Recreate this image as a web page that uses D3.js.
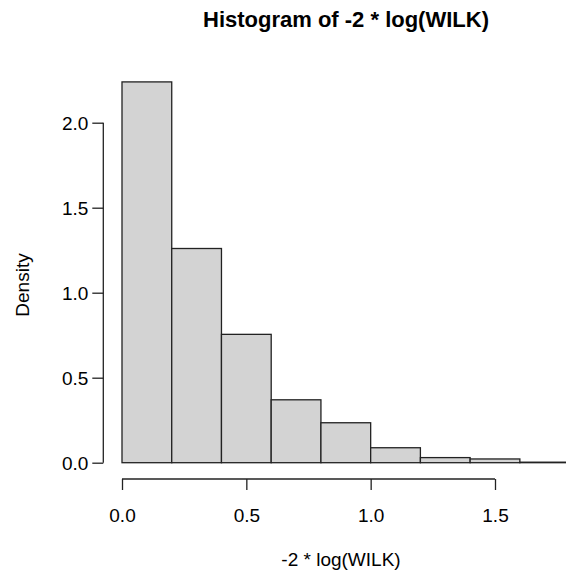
<!DOCTYPE html>
<html>
<head>
<meta charset="utf-8">
<script src="https://cdn.jsdelivr.net/npm/d3@7"></script>
<style>
  body { margin: 0; background: #fff; }
  text { font-family: "Liberation Sans", Arial, sans-serif; fill: #000; }
</style>
</head>
<body>
<svg id="chart" width="566" height="577"></svg>
<script>
// Histogram bins (width 0.2) and their densities
const binEdges = [0, 0.2, 0.4, 0.6, 0.8, 1.0, 1.2, 1.4, 1.6, 1.8];
const densities = [2.24, 1.26, 0.755, 0.37, 0.235, 0.088, 0.03, 0.022, 0.003];
const xTicks = [0, 0.5, 1.0, 1.5];
const yTicks = [0, 0.5, 1.0, 1.5, 2.0];

const svg = d3.select("#chart");

// scales fitted to the R plot region
const x = d3.scaleLinear().domain([0, 1.5]).range([122, 495]);
const y = d3.scaleLinear().domain([0, 2]).range([462.7, 122.7]);

// bars
const bins = densities.map((d, i) => ({ x0: binEdges[i], x1: binEdges[i + 1], d: d }));
svg.append("g")
  .selectAll("rect")
  .data(bins)
  .join("rect")
  .attr("x", b => x(b.x0))
  .attr("y", b => y(b.d))
  .attr("width", b => x(b.x1) - x(b.x0))
  .attr("height", b => y(0) - y(b.d))
  .attr("fill", "#d3d3d3")
  .attr("stroke", "#222")
  .attr("stroke-width", 1.3);

// x axis, offset below the bars like R does
const xAxis = svg.append("g")
  .attr("transform", "translate(0,479)")
  .call(d3.axisBottom(x).tickValues(xTicks).tickFormat(d3.format(".1f")).tickSize(11).tickSizeOuter(0));
xAxis.select(".domain").attr("d", "M" + x(0) + ",0H" + x(1.5)).attr("stroke", "#222").attr("stroke-width", 1.3);
xAxis.selectAll(".tick line").attr("stroke", "#222").attr("stroke-width", 1.3);
xAxis.selectAll(".tick text").attr("dy", 0).attr("y", 43).attr("font-size", 19).style("font-family", "Liberation Sans, Arial, sans-serif");

// y axis
const yAxis = svg.append("g")
  .attr("transform", "translate(103.3,0)")
  .call(d3.axisLeft(y).tickValues(yTicks).tickFormat(d3.format(".1f")).tickSize(11).tickSizeOuter(0));
yAxis.select(".domain").attr("d", "M0," + y(0) + "V" + y(2)).attr("stroke", "#222").attr("stroke-width", 1.3);
yAxis.selectAll(".tick line").attr("stroke", "#222").attr("stroke-width", 1.3);
yAxis.selectAll(".tick text").attr("x", -15).attr("dy", "0.36em").attr("font-size", 19).style("font-family", "Liberation Sans, Arial, sans-serif");

// titles
svg.append("text")
  .attr("x", 346).attr("y", 27)
  .attr("text-anchor", "middle")
  .attr("font-size", 22).attr("font-weight", "bold")
  .text("Histogram of -2 * log(WILK)");

svg.append("text")
  .attr("x", 341).attr("y", 566)
  .attr("text-anchor", "middle")
  .attr("font-size", 19)
  .text("-2 * log(WILK)");

svg.append("text")
  .attr("transform", "translate(29,285) rotate(-90)")
  .attr("text-anchor", "middle")
  .attr("font-size", 19)
  .text("Density");
</script>
</body>
</html>
